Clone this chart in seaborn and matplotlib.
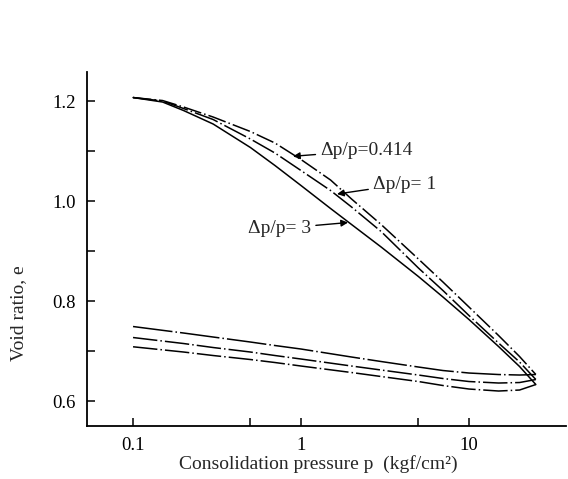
import numpy as np
import pandas as pd
import matplotlib
matplotlib.use("Agg")
import matplotlib.pyplot as plt
from matplotlib.ticker import FixedLocator, NullFormatter, FixedFormatter
import seaborn as sns

# ---- data ----
p_load = [0.1, 0.15, 0.2, 0.3, 0.5, 0.7, 1, 1.5, 2, 3, 5, 7, 10, 15, 20, 25]
e_load_0414 = [1.207, 1.201, 1.188, 1.168, 1.139, 1.116, 1.083, 1.042, 1.004, 0.953,
               0.884, 0.838, 0.788, 0.731, 0.689, 0.653]
e_load_1 = [1.207, 1.200, 1.185, 1.163, 1.124, 1.096, 1.061, 1.021, 0.988, 0.939,
            0.866, 0.821, 0.771, 0.716, 0.678, 0.643]
e_load_3 = [1.207, 1.198, 1.181, 1.154, 1.107, 1.071, 1.031, 0.985, 0.953, 0.908,
            0.849, 0.808, 0.763, 0.709, 0.669, 0.633]

p_unload = [0.1, 0.2, 0.3, 0.5, 0.7, 1, 2, 3, 5, 7, 10, 15, 20, 25]
e_unload_0414 = [0.749, 0.736, 0.728, 0.718, 0.711, 0.704, 0.688, 0.679, 0.668, 0.661,
                 0.656, 0.653, 0.652, 0.653]
e_unload_1 = [0.727, 0.715, 0.707, 0.698, 0.691, 0.684, 0.670, 0.662, 0.652, 0.645,
              0.639, 0.636, 0.637, 0.643]
e_unload_3 = [0.7085, 0.698, 0.691, 0.683, 0.677, 0.670, 0.657, 0.649, 0.639, 0.631,
              0.624, 0.620, 0.622, 0.633]

labels = ["\u0394p/p=0.414", "\u0394p/p= 1", "\u0394p/p= 3"]
x_ticks = [0.1, 1, 10]
x_tick_labels = ["0.1", "1", "10"]
x_minor = [0.5, 5]
y_ticks = [0.6, 0.8, 1.0, 1.2]
y_tick_labels = ["0.6", "0.8", "1.0", "1.2"]
y_minor = [0.7, 0.9, 1.1]

sns.set_style("ticks")
plt.rcParams["font.family"] = ["Liberation Serif", "DejaVu Serif"]

fig = plt.figure(figsize=(5.68, 4.79), dpi=100)
ax = fig.add_axes([87 / 568, 0.1106, (566 - 87) / 568, 0.739])

lw = 1.1
dd_a = (0, (12, 2, 1, 2))
dd_b = (0, (16, 2, 1, 2))
dd_c = (0, (26, 2, 1, 2))

sns.lineplot(x=p_load, y=e_load_0414, ax=ax, color="black", linewidth=lw, linestyle=dd_a)
sns.lineplot(x=p_load, y=e_load_1, ax=ax, color="black", linewidth=lw, linestyle=dd_b)
sns.lineplot(x=p_load, y=e_load_3, ax=ax, color="black", linewidth=lw, linestyle="-")
sns.lineplot(x=p_unload, y=e_unload_0414, ax=ax, color="black", linewidth=lw, linestyle=dd_c)
sns.lineplot(x=p_unload, y=e_unload_1, ax=ax, color="black", linewidth=lw, linestyle=dd_b)
sns.lineplot(x=p_unload, y=e_unload_3, ax=ax, color="black", linewidth=lw, linestyle=dd_b)

ax.set_xscale("log")
ax.set_xlim(0.0532, 37.8)
ax.set_ylim(0.55, 1.258)

ax.xaxis.set_major_locator(FixedLocator(x_ticks))
ax.xaxis.set_major_formatter(FixedFormatter(x_tick_labels))
ax.xaxis.set_minor_locator(FixedLocator(x_minor))
ax.xaxis.set_minor_formatter(NullFormatter())
ax.yaxis.set_major_locator(FixedLocator(y_ticks))
ax.yaxis.set_major_formatter(FixedFormatter(y_tick_labels))
ax.yaxis.set_minor_locator(FixedLocator(y_minor))

ax.tick_params(which="both", direction="in", length=6, width=1.1, colors="black",
               labelsize=13.5, pad=8)
for s in ["top", "right"]:
    ax.spines[s].set_visible(False)
for s in ["left", "bottom"]:
    ax.spines[s].set_linewidth(1.3)
    ax.spines[s].set_color("black")

ax.set_xlabel("Consolidation pressure p  (kgf/cm\u00b2)", fontsize=14)
ax.set_ylabel("Void ratio, e", fontsize=14)
ax.xaxis.set_label_coords(0.482, -0.082)
ax.yaxis.set_label_coords(-0.125, 0.32)

arrow = dict(arrowstyle="-|>", color="black", lw=1.0, mutation_scale=10, shrinkA=1, shrinkB=0)
ax.annotate(labels[0], xy=(0.896, 1.0895), xytext=(1.30, 1.101), fontsize=14,
            ha="left", va="center", arrowprops=arrow)
ax.annotate(labels[1], xy=(1.638, 1.014), xytext=(2.68, 1.034), fontsize=14,
            ha="left", va="center", arrowprops=arrow)
ax.annotate(labels[2], xy=(1.905, 0.957), xytext=(1.15, 0.945), fontsize=14,
            ha="right", va="center", arrowprops=arrow)

fig.savefig("out.png", dpi=100)
